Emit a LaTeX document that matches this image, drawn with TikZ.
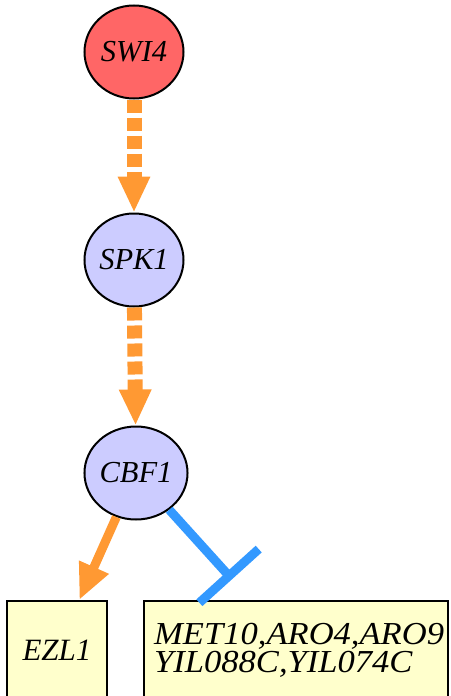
\documentclass[tikz,border=0pt]{standalone}
\usepackage{fontspec}
\setmainfont{Liberation Serif}
\newfontfamily\wideserif[FakeStretch=1.08]{Liberation Serif}
\usetikzlibrary{arrows.meta,shapes.geometric}
\definecolor{gnred}{RGB}{255,102,102}
\definecolor{gnblue}{RGB}{204,204,255}
\definecolor{gnyellow}{RGB}{255,255,204}
\definecolor{arrorange}{RGB}{255,153,51}
\definecolor{arrblue}{RGB}{51,153,255}
\begin{document}
\begin{tikzpicture}[x=1pt,y=-1pt,
  gene/.style={ellipse,draw=black,line width=2pt,minimum width=99pt,minimum height=93pt,inner sep=0pt,
    font=\fontsize{30.5}{31}\selectfont\itshape},
  genebox/.style={rectangle,draw=black,line width=2pt,fill=gnyellow,inner sep=0pt,
    font=\fontsize{31}{31}\selectfont\itshape},
  boxtext/.style={anchor=north west,inner sep=0pt,align=left,
    font=\wideserif\fontsize{32}{28}\selectfont\itshape},
  dasharr/.style={draw=arrorange,line width=15pt,dash pattern=on 13pt off 5pt,
    -{Triangle[width=30pt,length=36pt]}},
  solarr/.style={draw=arrorange,line width=9pt,-{Triangle[width=30pt,length=36pt]}},
  inhib/.style={draw=arrblue,line width=9pt,-{Bar[width=80pt]}}
]
\useasboundingbox (0,0) rectangle (450,696);
\fill[white] (0,0) rectangle (450,696);
\node[gene,fill=gnred] (swi4) at (134,52) {SWI4};
\node[gene,fill=gnblue] (spk1) at (134,260) {SPK1};
\node[gene,fill=gnblue] (cbf1) at (136,473) {CBF1};
\node[genebox,minimum width=100pt,minimum height=98pt] (ezl1) at (57,650) {EZL1};
\node[genebox,minimum width=304pt,minimum height=98pt] (met) at (296,650) {};
\node[boxtext] (mettext) at (154,623.5) {MET10,ARO4,ARO9\\YIL088C,YIL074C};
\draw[dasharr] (swi4) -- (spk1);
\draw[dasharr] (spk1) -- (cbf1);
\draw[solarr] (cbf1) -- (ezl1);
\draw[inhib,shorten >=28pt] (cbf1) -- (met);
\end{tikzpicture}
\end{document}
